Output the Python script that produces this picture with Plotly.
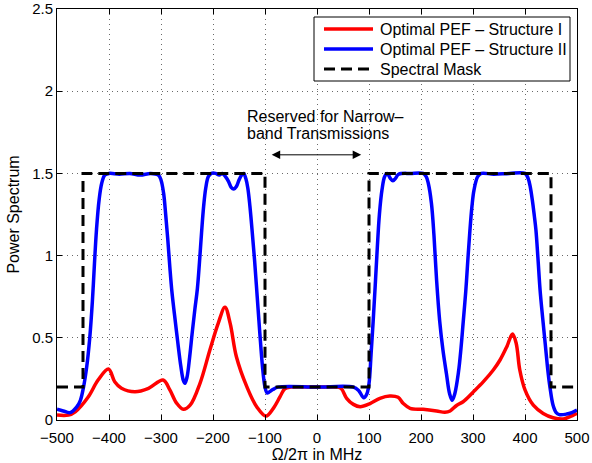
import plotly.graph_objects as go

# ---- data ----
red_x = [-500, -478, -465, -440, -421, -401, -389, -376, -350, -324, -296, -283, -270, -257,
         -244, -225, -206, -190, -177, -167, -155, -135, -116, -98, -84, -71, -62, -50,
         0, 40, 47, 57, 70, 83, 102, 121, 140, 156, 166, 179, 204, 230, 246,
         256, 269, 281, 301, 320, 339, 352, 365, 376, 383, 390, 400, 416, 435, 454, 474, 493, 500]
red_y = [0.03, 0.03, 0.05, 0.14, 0.243, 0.31, 0.233, 0.193, 0.172, 0.193, 0.243, 0.183, 0.103, 0.065,
         0.09, 0.223, 0.426, 0.588, 0.686, 0.588, 0.385, 0.203, 0.081, 0.024, 0.071, 0.142, 0.19, 0.2,
         0.2, 0.2, 0.19, 0.132, 0.095, 0.081, 0.10, 0.132, 0.146, 0.138, 0.10, 0.071, 0.065, 0.055, 0.047,
         0.055, 0.09, 0.111, 0.172, 0.233, 0.304, 0.365, 0.446, 0.523, 0.467, 0.304, 0.183, 0.09, 0.04, 0.014, 0.006, 0.03, 0.04]

blue_x = [-500, -488, -475, -462, -455, -449, -443, -437, -432, -428, -424, -419, -414, -408, -400,
          -380, -360, -340, -320, -305, -300, -295, -291, -287, -283, -279, -274, -268, -262, -257,
          -254, -250, -245, -240, -235, -230, -226, -222, -218, -214, -209, -203,
          -195, -188, -182, -176, -170, -165, -160, -155, -150, -145, -141,
          -137, -133, -129, -125, -120, -115, -110, -105, -100, -96, -92, -85, -75,
          0, 70, 80, 90, 96, 100, 104, 108, 112, 116, 120, 125, 130, 135, 141, 146, 151, 157,
          180, 204, 210, 214, 220, 225, 230, 236, 242, 249, 255, 260, 265, 272, 277, 281, 286,
          290, 294, 298, 302, 309, 316, 340, 370, 400, 406, 410, 414, 418, 421, 425, 429, 434,
          439, 444, 448, 454, 460, 466, 480, 490, 500]
blue_y = [0.065, 0.055, 0.045, 0.08, 0.12, 0.2, 0.32, 0.5, 0.72, 0.95, 1.16, 1.34, 1.44, 1.49, 1.5,
          1.495, 1.5, 1.49, 1.5, 1.49, 1.46, 1.38, 1.25, 1.1, 0.93, 0.78, 0.64, 0.48, 0.33, 0.24,
          0.223, 0.26, 0.38, 0.53, 0.67, 0.8, 0.96, 1.14, 1.3, 1.41, 1.48, 1.5,
          1.5, 1.49, 1.5, 1.48, 1.45, 1.415, 1.405, 1.42, 1.46, 1.49, 1.5,
          1.47, 1.41, 1.3, 1.16, 0.97, 0.75, 0.53, 0.33, 0.2, 0.165, 0.17, 0.185, 0.2,
          0.2, 0.2, 0.18, 0.135, 0.16, 0.22, 0.4, 0.6, 0.82, 1.05, 1.25, 1.4, 1.48, 1.5, 1.47, 1.455, 1.47, 1.495,
          1.5, 1.5, 1.48, 1.44, 1.32, 1.12, 0.85, 0.6, 0.43, 0.28, 0.16, 0.12, 0.16, 0.29, 0.44, 0.59, 0.78,
          0.97, 1.15, 1.3, 1.4, 1.48, 1.5, 1.495, 1.5, 1.5, 1.47, 1.42, 1.34, 1.24, 1.156, 0.98, 0.79, 0.62,
          0.46, 0.3, 0.2, 0.09, 0.045, 0.033, 0.036, 0.045, 0.06]

mask_x = [-500, -450, -450, -100, -100, 100, 100, 450, 450, 500]
mask_y = [0.2, 0.2, 1.5, 1.5, 0.2, 0.2, 1.5, 1.5, 0.2, 0.2]

x_ticks = [-500, -400, -300, -200, -100, 0, 100, 200, 300, 400, 500]
y_ticks = [0, 0.5, 1, 1.5, 2, 2.5]
y_tick_text = ["0", "0.5", "1", "1.5", "2", "2.5"]

names = ["Optimal PEF \u2013 Structure I", "Optimal PEF \u2013 Structure II", "Spectral Mask"]
colors = ["#ff0000", "#0000ff", "#000000"]
dashes = ["solid", "solid", "11px,6px"]
note_lines = ["Reserved for Narrow\u2013", "band Transmissions"]
note_x = -138
note_y = [1.846, 1.744]
arrow_from = (-90, 1.613)
arrow_to = (85, 1.613)

FONT = "Liberation Sans, Arial, Helvetica, sans-serif"
W, H = 592, 463
ML, MR, MT, MB = 57, 15, 9, 43
PW, PH = W - ML - MR, H - MT - MB


def px2paper(px, py):
    return (px - ML) / PW, (H - MB - py) / PH


fig = go.Figure()
fig.add_trace(go.Scatter(x=red_x, y=red_y, mode="lines", name=names[0], showlegend=False,
                         line=dict(color=colors[0], width=3.5, shape="spline", smoothing=1.0)))
fig.add_trace(go.Scatter(x=blue_x, y=blue_y, mode="lines", name=names[1], showlegend=False,
                         line=dict(color=colors[1], width=3.5, shape="spline", smoothing=1.0)))
fig.add_trace(go.Scatter(x=mask_x, y=mask_y, mode="lines", name=names[2], showlegend=False,
                         line=dict(color=colors[2], width=3, dash=dashes[2])))

# legend box drawn in paper coordinates
bx0, by0 = px2paper(314, 81)
bx1, by1 = px2paper(570, 17)
fig.add_shape(type="rect", xref="paper", yref="paper", x0=bx0, y0=by0, x1=bx1, y1=by1,
              line=dict(color="#000", width=1), fillcolor="#fff", layer="above")
for i, (nm, col, ds) in enumerate(zip(names, colors, dashes)):
    rowy = 29 + 20 * i
    lx0, ly = px2paper(324, rowy)
    lx1, _ = px2paper(373, rowy)
    tx, _ = px2paper(378, rowy)
    fig.add_shape(type="line", xref="paper", yref="paper", x0=lx0, x1=lx1, y0=ly, y1=ly,
                  line=dict(color=col, width=3.5 if i < 2 else 3, dash=ds), layer="above")
    fig.add_annotation(xref="paper", yref="paper", x=tx, y=ly, text=nm, showarrow=False,
                       xanchor="left", yanchor="middle",
                       font=dict(family=FONT, size=16, color="#000"))

for txt, yy in zip(note_lines, note_y):
    fig.add_annotation(x=note_x, y=yy, text=txt, showarrow=False, xanchor="left", yanchor="middle",
                       font=dict(family=FONT, size=16, color="#000"))

fig.add_annotation(x=arrow_to[0], y=arrow_to[1], ax=arrow_from[0], ay=arrow_from[1],
                   axref="x", ayref="y", xref="x", yref="y", text="", showarrow=True,
                   arrowhead=2, startarrowhead=2, arrowside="end+start", arrowsize=1.7,
                   startarrowsize=1.7, arrowwidth=1, arrowcolor="#000", standoff=0, startstandoff=0)

axis_common = dict(showline=True, linecolor="#000", linewidth=1, mirror="ticks", ticks="inside",
                   ticklen=5, tickcolor="#000", showgrid=True, gridcolor="#6a6a6a", griddash="1px,4px",
                   gridwidth=1, zeroline=False, automargin=False,
                   tickfont=dict(family=FONT, size=15, color="#000"))

fig.update_xaxes(range=[-500, 500], tickvals=x_ticks, ticklabelstandoff=4,
                 title=dict(text="\u03a9/2\u03c0 in MHz", font=dict(family=FONT, size=16, color="#000"), standoff=2),
                 **axis_common)
fig.update_yaxes(range=[0, 2.5], tickvals=y_ticks, ticktext=y_tick_text,
                 title=dict(text="Power Spectrum", font=dict(family=FONT, size=16, color="#000"), standoff=8),
                 **axis_common)

fig.update_layout(
    width=W, height=H, margin=dict(l=ML, r=MR, t=MT, b=MB),
    paper_bgcolor="#fff", plot_bgcolor="#fff",
    showlegend=False,
    font=dict(family=FONT),
)

fig.write_html("out.html")
